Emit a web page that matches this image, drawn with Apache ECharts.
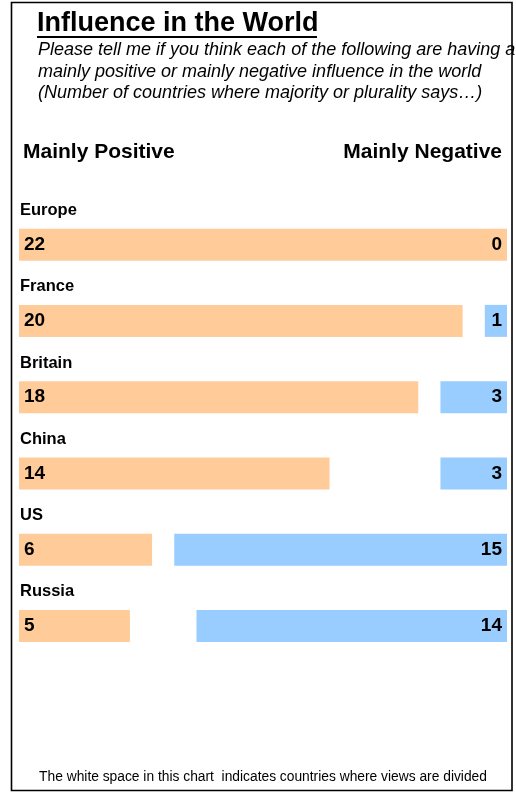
<!DOCTYPE html>
<html>
<head>
<meta charset="utf-8">
<script src="https://cdn.jsdelivr.net/npm/echarts@6/dist/echarts.min.js"></script>
<style>
html,body{margin:0;padding:0;background:#fff;}
#chart{width:516px;height:794px;}
</style>
</head>
<body>
<div id="chart"></div>
<script>
// Data
var categories = ['Europe', 'France', 'Britain', 'China', 'US', 'Russia'];
var positiveValues = [22, 20, 18, 14, 6, 5];
var negativeValues = [0, 1, 3, 3, 15, 14];
var totalCountries = 22;

var titleText = 'Influence in the World';
var subtitleLines = [
  'Please tell me if you think each of the following are having a',
  'mainly positive or mainly negative influence in the world',
  '(Number of countries where majority or plurality says\u2026)'
];
var leftHeader = 'Mainly Positive';
var rightHeader = 'Mainly Negative';
var footerText = 'The white space in this chart  indicates countries where views are divided';

var gapValues = categories.map(function (c, i) {
  return Math.max(0, totalCountries - positiveValues[i] - negativeValues[i]);
});
var labelAnchors = categories.map(function (c) { return [0, c]; });

var FONT = '"Liberation Sans", Arial, Helvetica, sans-serif';

var chart = echarts.init(document.getElementById('chart'), null, {renderer: 'canvas'});

var graphics = [
  {type: 'rect', shape: {x: 11.5, y: 2.5, width: 500.5, height: 788}, style: {fill: 'none', stroke: '#000', lineWidth: 1.6}, silent: true},
  {type: 'text', x: 37, y: 24, style: {text: titleText, font: 'bold 27px ' + FONT, fill: '#000', textVerticalAlign: 'middle'}},
  {type: 'line', shape: {x1: 37, y1: 37, x2: 317, y2: 37}, style: {stroke: '#000', lineWidth: 2}},
  {type: 'text', x: 23, y: 152, style: {text: leftHeader, font: 'bold 21px ' + FONT, fill: '#000', textVerticalAlign: 'middle'}},
  {type: 'text', x: 502, y: 152, style: {text: rightHeader, font: 'bold 21px ' + FONT, fill: '#000', textAlign: 'right', textVerticalAlign: 'middle'}},
  {type: 'text', x: 263, y: 777, style: {text: footerText, font: '13.8px ' + FONT, fill: '#000', textAlign: 'center', textVerticalAlign: 'middle'}}
];
subtitleLines.forEach(function (line, i) {
  graphics.push({type: 'text', x: 38, y: 50 + i * 21.6, style: {text: line, font: 'italic 18px ' + FONT, fill: '#000', textVerticalAlign: 'middle'}});
});

var option = {
  animation: false,
  backgroundColor: '#fff',
  grid: {left: 19, right: 9, top: 206.5, bottom: 130, containLabel: false},
  xAxis: {
    type: 'value', min: 0, max: totalCountries,
    show: false
  },
  yAxis: {
    type: 'category', data: categories, inverse: true,
    axisLine: {show: false}, axisTick: {show: false}, splitLine: {show: false},
    axisLabel: {show: false}
  },
  series: [
    {
      name: 'Mainly Positive', type: 'bar', stack: 'all', barWidth: 32,
      data: positiveValues,
      itemStyle: {color: '#FFCC99'},
      label: {show: true, position: 'insideLeft', distance: 5, fontFamily: FONT, fontWeight: 'bold', fontSize: 19, color: '#000'}
    },
    {
      name: 'Divided', type: 'bar', stack: 'all', barWidth: 32,
      data: gapValues,
      itemStyle: {color: 'rgba(0,0,0,0)'},
      silent: true
    },
    {
      name: 'Mainly Negative', type: 'bar', stack: 'all', barWidth: 32,
      data: negativeValues,
      itemStyle: {color: '#99CCFF'},
      label: {show: true, position: 'insideRight', distance: 5, fontFamily: FONT, fontWeight: 'bold', fontSize: 19, color: '#000'}
    },
    {
      name: 'Category', type: 'scatter', data: labelAnchors,
      symbolSize: 0, silent: true,
      itemStyle: {opacity: 1, color: '#000'},
      label: {
        show: true, position: 'right', distance: 1, offset: [0, -34],
        formatter: function (p) { return p.value[1]; },
        fontFamily: FONT, fontWeight: 'bold', fontSize: 16.5, color: '#000', opacity: 1
      }
    }
  ],
  graphic: graphics
};
chart.setOption(option);
</script>
</body>
</html>
